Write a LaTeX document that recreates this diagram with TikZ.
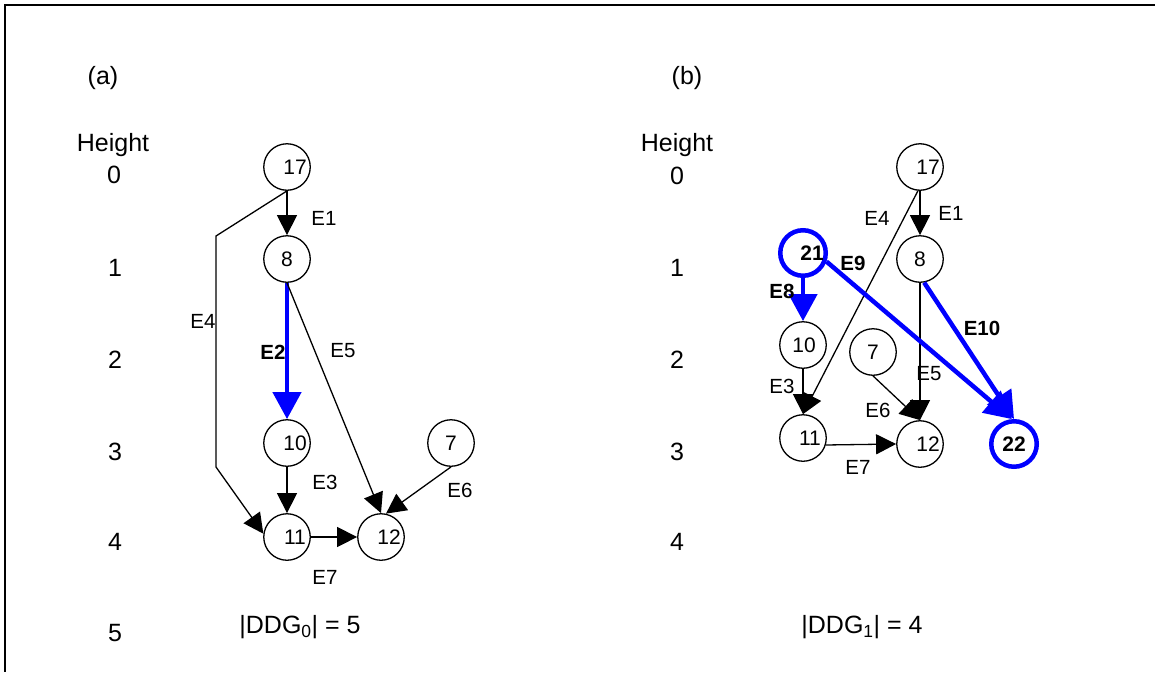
\documentclass[tikz,border=0pt]{standalone}
\usepackage{fontspec}
\setmainfont{Liberation Sans}
\usetikzlibrary{arrows.meta}

\begin{document}
\begin{tikzpicture}[x=1pt,y=-1pt,
  big/.style={font=\fontsize{25}{29}\selectfont},
  vertex/.style={circle,draw,line width=1.3pt,minimum size=46.5pt,inner sep=0pt,
                 font=\fontsize{21}{25}\selectfont},
  hotvertex/.style={vertex,draw=blue,line width=4.5pt,minimum size=45.5pt,
                 font=\bfseries\fontsize{21}{25}\selectfont},
  elabel/.style={font=\fontsize{20.5}{24}\selectfont,inner sep=0pt},
  hotlabel/.style={elabel,font=\bfseries\fontsize{20.5}{24}\selectfont},
  dep/.style={line width=1.3pt,-{Triangle[width=20pt,length=20pt]}},
  hotdep/.style={draw=blue,line width=4.5pt,-{Triangle[width=28pt,length=27pt]}},
]
\useasboundingbox (0,0) rectangle (1155,672);

% outer frame (top and left edges)
\draw[line width=2pt] (1155,5) -- (5,5) -- (5,672);

% ---------------- (a) ----------------
\node[big] (ta) at (103,78) {(a)};
\node[big] (ha) at (113,145) {Height};
\node[big] (ha0) at (114,175) {0};
\node[big] (ha1) at (115,268) {1};
\node[big] (ha2) at (115,360) {2};
\node[big] (ha3) at (115,452) {3};
\node[big] (ha4) at (115,542) {4};
\node[big] (ha5) at (115,633) {5};

\node[vertex] (a17) at (287,167) {\hspace{16pt}17};
\node[vertex] (a8)  at (287,259) {8};
\node[vertex] (a10) at (287,443) {\hspace{16pt}10};
\node[vertex] (a11) at (287,537) {\hspace{16pt}11};
\node[vertex] (a12) at (381,537) {\hspace{16pt}12};
\node[vertex] (a7)  at (451,443) {7};

\coordinate (a4p) at (216,236);
\coordinate (a4q) at (216,467);

\draw[dep] (a17.south) -- (a8.north);
\draw[dep] (a17.south) -- (a4p) -- (a4q) -- (a11.172);
\draw[hotdep] (a8.south) -- (a10.north);
\draw[dep] (a8.south) -- (a12.north);
\draw[dep] (a10.south) -- (a11.north);
\draw[dep] (a7.south) -- (a12.78);
\draw[dep] (a11.east) -- (a12.west);

\node[elabel] (la1) at (324,218) {E1};
\node[hotlabel] (la2) at (273,352) {E2};
\node[elabel] (la3) at (325,482) {E3};
\node[elabel] (la4) at (203,321) {E4};
\node[elabel] (la5) at (343,351) {E5};
\node[elabel] (la6) at (460,490) {E6};
\node[elabel] (la7) at (325,577) {E7};

\node[big] (sa) at (300,627) {|DDG\textsubscript{0}| = 5};

% ---------------- (b) ----------------
\node[big] (tb) at (687,78) {(b)};
\node[big] (hb) at (677,145) {Height};
\node[big] (hb0) at (677,176) {0};
\node[big] (hb1) at (677,268) {1};
\node[big] (hb2) at (677,360) {2};
\node[big] (hb3) at (677,452) {3};
\node[big] (hb4) at (677,542) {4};

\node[vertex] (b17) at (920,167) {\hspace{16pt}17};
\node[vertex] (b8)  at (920,259) {8};
\node[hotvertex] (b21) at (803,253) {\hspace{18pt}21};
\node[vertex] (b10) at (803,345) {\hspace{2pt}10};
\node[vertex] (b7)  at (873,352) {7};
\node[vertex] (b11) at (803,438) {\hspace{14pt}11};
\node[vertex] (b12) at (920,444) {\hspace{16pt}12};
\node[hotvertex] (b22) at (1014,444) {22};

\draw[dep] (b17.south) -- (b8.north);
\draw[dep] (b17.265) -- (b11.north);
\draw[dep] (b8.south) -- (b12.north);
\draw[dep] (b7.south) -- (b12.north);
\draw[dep] (b10.south) -- (b11.north);
\draw[dep] (b11.-17) -- (b12.west);
\draw[hotdep] (b21.south) -- (b10.north);
\draw[hotdep] (b21.-20) -- (b22.95);
\draw[hotdep] (b8.-80) -- (b22.north);

\node[elabel] (lb1) at (951,213) {E1};
\node[elabel] (lb3) at (782,386) {E3};
\node[elabel] (lb4) at (877,218) {E4};
\node[elabel] (lb5) at (929,374) {E5};
\node[elabel] (lb6) at (878,410) {E6};
\node[elabel] (lb7) at (858,467) {E7};
\node[hotlabel] (lb8) at (782,291) {E8};
\node[hotlabel] (lb9) at (853,263) {E9};
\node[hotlabel] (lb10) at (982,328) {E10};

\node[big] (sb) at (862,627) {|DDG\textsubscript{1}| = 4};
\end{tikzpicture}
\end{document}
